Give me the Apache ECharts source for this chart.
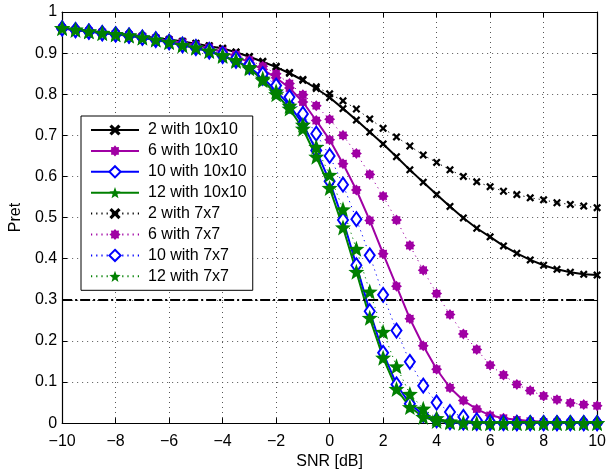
<!DOCTYPE html>
<html>
<head>
<meta charset="utf-8">
<script src="https://cdn.jsdelivr.net/npm/echarts@6/dist/echarts.min.js"></script>
<style>
  html, body { margin: 0; padding: 0; background: #fff; }
  #chart { width: 609px; height: 475px; }
</style>
</head>
<body>
<div id="chart"></div>
<script>
// SNR sweep in dB
const snr = [-10, -9.5, -9, -8.5, -8, -7.5, -7, -6.5, -6, -5.5,
             -5, -4.5, -4, -3.5, -3, -2.5, -2, -1.5, -1, -0.5,
             0, 0.5, 1, 1.5, 2, 2.5, 3, 3.5, 4, 4.5,
             5, 5.5, 6, 6.5, 7, 7.5, 8, 8.5, 9, 9.5, 10];

// Pret, 10x10 configuration
const pret2x10 = [0.961, 0.957, 0.954, 0.951, 0.948, 0.945, 0.941, 0.937, 0.933, 0.928,
                  0.923, 0.917, 0.911, 0.902, 0.891, 0.879, 0.866, 0.851, 0.834, 0.814,
                  0.792, 0.765, 0.737, 0.708, 0.679, 0.648, 0.616, 0.586, 0.556, 0.527,
                  0.499, 0.474, 0.453, 0.431, 0.413, 0.397, 0.384, 0.374, 0.367, 0.362, 0.360];
const pret6x10 = [0.960, 0.956, 0.953, 0.950, 0.947, 0.943, 0.939, 0.935, 0.930, 0.925,
                  0.919, 0.912, 0.903, 0.892, 0.877, 0.860, 0.840, 0.815, 0.781, 0.736,
                  0.689, 0.631, 0.567, 0.493, 0.412, 0.333, 0.254, 0.188, 0.131, 0.086,
                  0.055, 0.034, 0.019, 0.012, 0.008, 0.005, 0.003, 0.002, 0.001, 0.001, 0.000];
const pret10x10 = [0.960, 0.956, 0.952, 0.948, 0.945, 0.942, 0.937, 0.932, 0.926, 0.919,
                   0.912, 0.904, 0.893, 0.881, 0.866, 0.840, 0.808, 0.773, 0.728, 0.663,
                   0.588, 0.494, 0.384, 0.272, 0.171, 0.094, 0.047, 0.020, 0.007, 0.002,
                   0.001, 0, 0, 0, 0, 0, 0, 0, 0, 0, 0];
const pret12x10 = [0.961, 0.957, 0.953, 0.949, 0.946, 0.943, 0.938, 0.933, 0.927, 0.919,
                   0.913, 0.905, 0.893, 0.881, 0.863, 0.834, 0.800, 0.765, 0.716, 0.648,
                   0.572, 0.476, 0.368, 0.256, 0.159, 0.083, 0.039, 0.015, 0.005, 0.002,
                   0.001, 0, 0, 0, 0, 0, 0, 0, 0, 0, 0];

// Pret, 7x7 configuration
const pret2x7 = [0.961, 0.957, 0.954, 0.951, 0.948, 0.945, 0.941, 0.937, 0.933, 0.929,
                 0.924, 0.918, 0.912, 0.903, 0.892, 0.880, 0.868, 0.853, 0.836, 0.818,
                 0.801, 0.784, 0.764, 0.740, 0.717, 0.696, 0.674, 0.652, 0.634, 0.616,
                 0.600, 0.587, 0.575, 0.564, 0.556, 0.548, 0.543, 0.536, 0.532, 0.528, 0.524];
const pret6x7 = [0.960, 0.956, 0.953, 0.950, 0.947, 0.944, 0.940, 0.936, 0.931, 0.926,
                 0.920, 0.914, 0.906, 0.896, 0.883, 0.868, 0.850, 0.826, 0.799, 0.772,
                 0.739, 0.700, 0.656, 0.605, 0.552, 0.494, 0.432, 0.372, 0.315, 0.264,
                 0.217, 0.179, 0.141, 0.117, 0.094, 0.079, 0.066, 0.057, 0.049, 0.045, 0.042];
const pret10x7 = [0.960, 0.956, 0.953, 0.949, 0.946, 0.943, 0.938, 0.934, 0.928, 0.921,
                  0.915, 0.908, 0.898, 0.887, 0.872, 0.849, 0.821, 0.793, 0.752, 0.704,
                  0.650, 0.580, 0.496, 0.408, 0.312, 0.225, 0.149, 0.091, 0.050, 0.027,
                  0.015, 0.007, 0.003, 0.001, 0, 0, 0, 0, 0, 0, 0];
const pret12x7 = [0.961, 0.957, 0.953, 0.949, 0.946, 0.943, 0.938, 0.933, 0.927, 0.920,
                  0.914, 0.906, 0.895, 0.883, 0.866, 0.838, 0.807, 0.772, 0.726, 0.672,
                  0.604, 0.520, 0.424, 0.320, 0.222, 0.138, 0.071, 0.035, 0.012, 0.004,
                  0.001, 0, 0, 0, 0, 0, 0, 0, 0, 0, 0];

const seriesNames = ['2 with 10x10', '6 with 10x10', '10 with 10x10', '12 with 10x10',
                     '2 with 7x7', '6 with 7x7', '10 with 7x7', '12 with 7x7'];
const threshold = 0.3;

// ---- marker shapes ----
function starPath(points, inner) {
  const pts = [];
  for (let i = 0; i < points * 2; i++) {
    const r = i % 2 === 0 ? 1 : inner;
    const a = -Math.PI / 2 + i * Math.PI / points;
    pts.push((50 + 50 * r * Math.cos(a)).toFixed(2) + ',' + (50 + 50 * r * Math.sin(a)).toFixed(2));
  }
  return 'path://M' + pts.join(' L') + ' Z';
}
const crossSym = 'path://M2,0 L5,3 L8,0 L10,2 L7,5 L10,8 L8,10 L5,7 L2,10 L0,8 L3,5 L0,2 Z';
const asteriskSym = starPath(8, 0.72);
const pentagramSym = starPath(5, 0.42);

const BLACK = '#000000', MAGENTA = '#a000a4', BLUE = '#0000ff', GREEN = '#008000';
const FONT = "'Liberation Sans', Arial, Helvetica, sans-serif";

function pairs(ys) { return snr.map((x, i) => [x, ys[i]]); }

function makeSeries(name, ys, color, symbol, size, dotted, extra) {
  const s = {
    name: name,
    type: 'line',
    data: pairs(ys),
    symbol: symbol,
    symbolSize: size,
    showAllSymbol: true,
    clip: false,
    lineStyle: dotted
      ? { color: color, width: 1, type: [1.2, 4] }
      : { color: color, width: 2 },
    itemStyle: { color: color, borderWidth: 0 },
    emphasis: { disabled: true }
  };
  return Object.assign(s, extra || {});
}

const series = [
  makeSeries(seriesNames[0], pret2x10, BLACK, crossSym, 8, false, {
    markLine: {
      silent: true,
      symbol: 'none',
      label: { show: false },
      lineStyle: { color: '#000', width: 2, type: [10, 3, 2, 3] },
      data: [{ yAxis: threshold }]
    }
  }),
  makeSeries(seriesNames[1], pret6x10, MAGENTA, asteriskSym, 11, false),
  makeSeries(seriesNames[2], pret10x10, BLUE, 'emptyDiamond', [10, 14], false,
    { itemStyle: { color: BLUE, borderWidth: 1.8 } }),
  makeSeries(seriesNames[3], pret12x10, GREEN, pentagramSym, 16, false),
  makeSeries(seriesNames[4], pret2x7, BLACK, crossSym, 8, true),
  makeSeries(seriesNames[5], pret6x7, MAGENTA, asteriskSym, 11, true),
  makeSeries(seriesNames[6], pret10x7, BLUE, 'emptyDiamond', [10, 14], true,
    { itemStyle: { color: BLUE, borderWidth: 1.8 } }),
  makeSeries(seriesNames[7], pret12x7, GREEN, pentagramSym, 16, true)
];

const gridDots = { color: '#555', width: 1, type: [1, 4] };

const option = {
  animation: false,
  backgroundColor: '#fff',
  textStyle: { fontFamily: FONT },
  grid: { left: 59, right: 8, top: 12, bottom: 47, containLabel: false },
  legend: {
    data: seriesNames,
    orient: 'vertical',
    left: 81,
    top: 116,
    padding: [5, 6, 5, 9],
    itemGap: 2.9,
    itemWidth: 48,
    itemHeight: 14,
    backgroundColor: '#fff',
    borderColor: '#000',
    borderWidth: 1,
    selectedMode: false,
    textStyle: { fontFamily: FONT, fontSize: 16, color: '#000', lineHeight: 18, padding: [0, 0, 0, 4] }
  },
  xAxis: [{
    type: 'value', min: -10, max: 10, interval: 2,
    name: 'SNR [dB]', nameLocation: 'middle', nameGap: 29,
    nameTextStyle: { fontFamily: FONT, fontSize: 16, color: '#000' },
    axisLine: { show: true, onZero: false, lineStyle: { color: '#000', width: 1.2 } },
    axisTick: { show: true, inside: true, length: 5, lineStyle: { color: '#000' } },
    axisLabel: { fontFamily: FONT, fontSize: 16, color: '#000', margin: 10,
      formatter: v => String(v).replace('-', '\u2212') },
    splitLine: { show: true, lineStyle: gridDots }
  }, {
    type: 'value', min: -10, max: 10, interval: 2, position: 'top',
    axisLine: { show: true, onZero: false, lineStyle: { color: '#000', width: 1.2 } },
    axisTick: { show: true, inside: true, length: 5, lineStyle: { color: '#000' } },
    axisLabel: { show: false },
    splitLine: { show: false }
  }],
  yAxis: [{
    type: 'value', min: 0, max: 1, interval: 0.1,
    name: 'Pret', nameLocation: 'middle', nameGap: 32,
    nameTextStyle: { fontFamily: FONT, fontSize: 16, color: '#000' },
    axisLine: { show: true, onZero: false, lineStyle: { color: '#000', width: 1.2 } },
    axisTick: { show: true, inside: true, length: 5, lineStyle: { color: '#000' } },
    axisLabel: { fontFamily: FONT, fontSize: 16, color: '#000', margin: 5,
      formatter: v => String(+v.toFixed(1)) },
    splitLine: { show: true, lineStyle: gridDots }
  }, {
    type: 'value', min: 0, max: 1, interval: 0.1, position: 'right',
    axisLine: { show: true, onZero: false, lineStyle: { color: '#000', width: 1.2 } },
    axisTick: { show: true, inside: true, length: 5, lineStyle: { color: '#000' } },
    axisLabel: { show: false },
    splitLine: { show: false }
  }],
  series: series
};

const chart = echarts.init(document.getElementById('chart'), null, { renderer: 'canvas' });
chart.setOption(option);
</script>
</body>
</html>
